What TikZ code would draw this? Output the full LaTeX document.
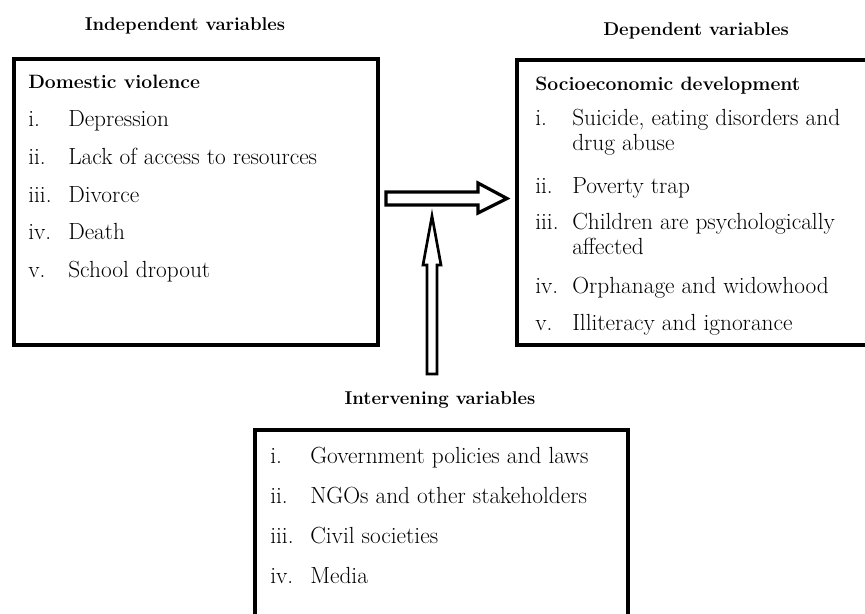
\documentclass[tikz,border=0pt]{standalone}
\usepackage{fontspec}
\begin{document}
\begin{tikzpicture}[x=0.75pt,y=-0.75pt,
  txt/.style={anchor=base west,inner sep=0pt,font=\fontsize{17.5pt}{20pt}\selectfont},
  hd/.style={anchor=base west,inner sep=0pt,font=\fontsize{14.5pt}{17pt}\selectfont\bfseries},
  ttl/.style={anchor=base,inner sep=0pt,font=\fontsize{13.9pt}{16pt}\selectfont\bfseries},
  boxline/.style={draw=black,line width=3pt},
  blockarrow/.style={draw=black,line width=2.4pt,line join=miter,fill=white}]
\useasboundingbox (0,0) rectangle (865,614);
\clip (0,0) rectangle (865,614);
% titles
\node[ttl] (t1) at (185,31) {Independent variables};
\node[ttl] (t2) at (696,36) {Dependent variables};
\node[ttl] (t3) at (440,404) {Intervening variables};
% boxes
\draw[boxline] (13.5,59) rectangle (378,345);
\draw[boxline] (517,60) rectangle (880,345);
\draw[boxline] (255,430) rectangle (628,630);
% left box
\node[hd] (lh) at (28,89) {Domestic violence};
\node[txt] (l1n) at (28,126) {i.};   \node[txt] (l1) at (68,126) {Depression};
\node[txt] (l2n) at (28,164) {ii.};  \node[txt] (l2) at (68,164) {Lack of access to resources};
\node[txt] (l3n) at (28,202) {iii.}; \node[txt] (l3) at (68,202) {Divorce};
\node[txt] (l4n) at (28,239) {iv.};  \node[txt] (l4) at (68,239) {Death};
\node[txt] (l5n) at (28,277) {v.};   \node[txt] (l5) at (68,277) {School dropout};
% right box
\node[hd] (rh) at (535,90) {Socioeconomic development};
\node[txt] (r1n) at (535,125) {i.};   \node[txt] (r1) at (572,125) {Suicide, eating disorders and};
\node[txt] (r1b) at (572,150) {drug abuse};
\node[txt] (r2n) at (535,193) {ii.};  \node[txt] (r2) at (572,193) {Poverty trap};
\node[txt] (r3n) at (535,229) {iii.}; \node[txt] (r3) at (572,229) {Children are psychologically};
\node[txt] (r3b) at (572,254) {affected};
\node[txt] (r4n) at (535,293) {iv.};  \node[txt] (r4) at (572,293) {Orphanage and widowhood};
\node[txt] (r5n) at (535,330) {v.};   \node[txt] (r5) at (572,330) {Illiteracy and ignorance};
% bottom box
\node[txt] (b1n) at (270,463) {i.};   \node[txt] (b1) at (310,463) {Government policies and laws};
\node[txt] (b2n) at (270,503) {ii.};  \node[txt] (b2) at (310,503) {NGOs and other stakeholders};
\node[txt] (b3n) at (270,543) {iii.}; \node[txt] (b3) at (310,543) {Civil societies};
\node[txt] (b4n) at (270,583) {iv.};  \node[txt] (b4) at (310,583) {Media};
% horizontal block arrow
\draw[blockarrow] (386,192) -- (478,192) -- (478,183) -- (507,198.5) -- (478,213) -- (478,205) -- (386,205) -- cycle;
% vertical block arrow
\draw[blockarrow,line width=2pt] (432,216) -- (441,265) -- (437,265) -- (437,374) -- (427,374) -- (427,265) -- (423,265) -- cycle;
\end{tikzpicture}
\end{document}
